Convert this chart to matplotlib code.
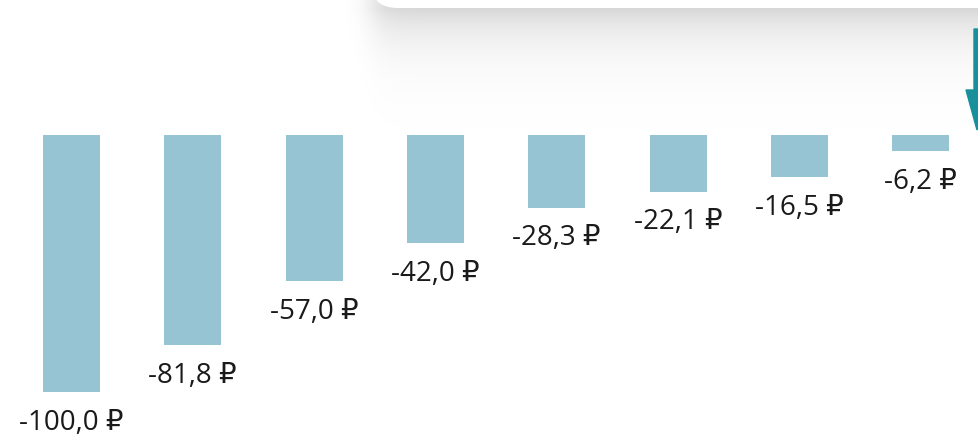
import matplotlib.pyplot as plt
import numpy as np
from matplotlib.patches import FancyBboxPatch, FancyArrow

plt.rcParams['font.family'] = ['Open Sans', 'DejaVu Sans']

W, H = 979, 436

values = [-100.0, -81.8, -57.0, -42.0, -28.3, -22.1, -16.5, -6.2]
labels = ["-100,0 ₽", "-81,8 ₽", "-57,0 ₽", "-42,0 ₽", "-28,3 ₽", "-22,1 ₽", "-16,5 ₽", "-6,2 ₽"]

BAR_COLOR = "#96c4d3"
ARROW_COLOR = "#17909a"

fig = plt.figure(figsize=(W / 100, H / 100), dpi=100)
fig.patch.set_facecolor("white")

# decoration layer in pixel coordinates (card with shadow, arrow)
deco = fig.add_axes([0, 0, 1, 1])
deco.set_xlim(0, W)
deco.set_ylim(H, 0)
deco.axis("off")

# soft shadow under the card
yy, xx = np.mgrid[0:H, 0:W].astype(float)


def smooth_step(d, s):
    return 0.5 * (1 + np.tanh(d / s))


shadow = smooth_step(xx - 372, 16) * 0.16 * np.exp(-np.clip(yy - 8, 0, None) / 32)
rgba = np.zeros((H, W, 4))
rgba[..., 3] = shadow
deco.imshow(rgba, extent=(0, W, H, 0), zorder=1, interpolation="bilinear")

card = FancyBboxPatch((370, -60), 700, 68, boxstyle="round,pad=0,rounding_size=28",
                      facecolor="white", edgecolor="none", zorder=2)
deco.add_patch(card)

arrow = FancyArrow(977, 29, 0, 101, width=6, head_width=22, head_length=40,
                   length_includes_head=True, color=ARROW_COLOR, zorder=3)
deco.add_patch(arrow)

# bar chart
ax = fig.add_axes([0, 0, 1, 1])
ax.patch.set_alpha(0)
x = np.arange(len(values))
step = 121.3
ax.set_xlim(-71.5 / step, (W - 71.5) / step)
scale = 2.57
ax.set_ylim(-(H - 135) / scale, 135 / scale)
ax.bar(x, values, width=57 / step, color=BAR_COLOR, zorder=2)
for xi, v, lab in zip(x, values, labels):
    ax.annotate(lab, (xi, v), xytext=(0, -12), textcoords="offset points",
                ha="center", va="top", fontsize=20, color="#1a1a1a")
ax.axis("off")

fig.savefig("out.png", dpi=100)
